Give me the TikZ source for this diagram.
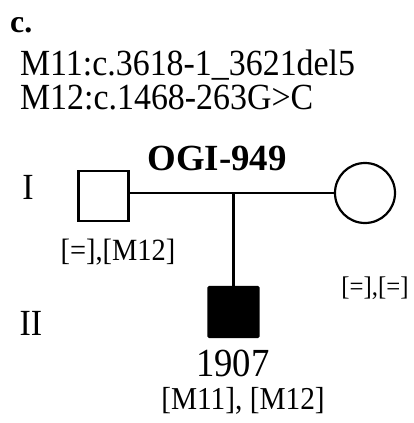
\documentclass[tikz,border=0pt]{standalone}
\usepackage{fontspec}
\setmainfont{Liberation Serif}
\newfontfamily\narrowserif{Liberation Serif}[FakeStretch=0.92]
\tikzset{
	txt/.style={anchor=base,inner sep=0pt,font=\narrowserif\fontsize{#1}{#1}\selectfont},
	male/.style={draw,rectangle,minimum size=50bp,inner sep=0pt},
	female/.style={draw,circle,minimum size=60bp,inner sep=0pt},
}
\begin{document}
\begin{tikzpicture}[x=1bp,y=-1bp,line width=2.2bp]
		\useasboundingbox (0,0) rectangle (414,423);
		\node[anchor=base west,inner sep=0pt,font=\fontsize{32}{32}\selectfont\bfseries] (panel) at (9,32) {c.};
		\node[txt=37,anchor=base west] (mutA) at (19,75) {M11:c.3618-1\_3621del5};
		\node[txt=37,anchor=base west] (mutB) at (19,109) {M12:c.1468-263G>C};
		\node[anchor=base,inner sep=0pt,font=\fontsize{37}{37}\selectfont\bfseries] (family) at (217,170) {OGI-949};
		\node[txt=37] (genI) at (28,199) {I};
		\node[txt=37] (genII) at (31,335) {II};
		\node[male] (father) at (103.5,196) {};
		\node[female] (mother) at (365,193) {};
		\node[male,fill=black,rounded corners=1bp] (child) at (233.5,312) {};
		\draw (father.east |- mother.west) -- (mother.west);
		\coordinate (mid) at (child.north |- mother.west);
		\draw (mid) -- (child.north);
		\node[txt=31] (fatherGt) at (118,260) {[=],[M12]};
		\node[txt=27] (motherGt) at (375,295) {[=],[=]};
		\node[txt=40] (childId) at (233,376) {1907};
		\node[txt=32] (childGt) at (243,409) {[M11], [M12]};
	\end{tikzpicture}
\end{document}
